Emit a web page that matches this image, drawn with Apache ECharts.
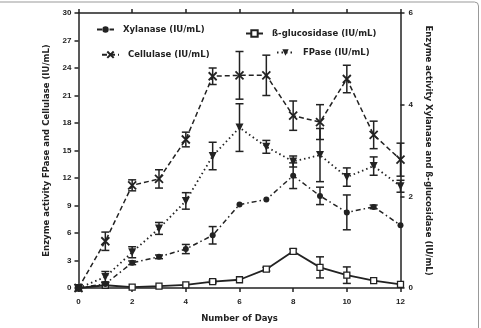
<!DOCTYPE html>
<html>
<head>
<meta charset="utf-8">
<script src="https://cdn.jsdelivr.net/npm/echarts@6/dist/echarts.min.js"></script>
<style>
  html, body { margin: 0; padding: 0; background: #fff; }
  #chart { width: 481px; height: 328px; }
</style>
</head>
<body>
<div id="chart"></div>
<script>
// days of culture
const days = [0, 1, 2, 3, 4, 5, 6, 7, 8, 9, 10, 11, 12];

// left axis (FPase and Cellulase, IU/mL)
const cellulase    = [0, 5.1, 11.2, 11.9, 16.2, 23.1, 23.2, 23.2, 18.8, 18.1, 22.8, 16.7, 14.0];
const cellulaseErr = [0, 1.0, 0.6, 1.0, 0.8, 0.9, 2.6, 2.2, 1.6, 1.9, 1.5, 1.5, 1.8];
const fpase        = [0, 1.2, 3.9, 6.5, 9.5, 14.4, 17.5, 15.4, 13.8, 14.5, 12.1, 13.3, 11.1];
const fpaseErr     = [0, 0.6, 0.6, 0.65, 0.9, 1.5, 2.6, 0.7, 0.6, 2.9, 1.0, 1.0, 0.65];

// right axis (Xylanase and ß-glucosidase, IU/mL)
const xylanase       = [0, 0.09, 0.55, 0.68, 0.85, 1.15, 1.82, 1.93, 2.45, 2.01, 1.65, 1.77, 1.37];
const xylanaseErr    = [0, 0.04, 0.04, 0.04, 0.1, 0.19, 0, 0, 0.28, 0.19, 0.38, 0.04, 0];
const glucosidase    = [0, 0.06, 0.02, 0.04, 0.07, 0.14, 0.18, 0.41, 0.80, 0.45, 0.28, 0.16, 0.08];
const glucosidaseErr = [0, 0, 0, 0, 0, 0.03, 0, 0.04, 0.05, 0.23, 0.18, 0, 0];

const leftTicks  = [0, 3, 6, 9, 12, 15, 18, 21, 24, 27, 30];
const rightTicks = [0, 2, 4, 6];
const dayTicks   = [0, 2, 4, 6, 8, 10, 12];

const INK = '#222';
const labelFont = () => ({ color: INK, fontSize: 8, fontWeight: 'bold', fontFamily: 'Liberation Sans' });
const titleFont = () => ({ color: INK, fontSize: 8.5, fontWeight: 'bold', fontFamily: 'DejaVu Sans' });

const pairs = (ys) => days.map((d, i) => [d, ys[i]]);
const triples = (ys, es) => days.map((d, i) => [d, ys[i], es[i]]);

// error bars with caps
const errRender = (params, api) => {
  const x = api.value(0), y = api.value(1), e = api.value(2);
  if (!e) return null;
  const top = api.coord([x, y + e]);
  const bot = api.coord([x, y - e]);
  const w = 4;
  const st = { stroke: INK, lineWidth: 1.5 };
  return {
    type: 'group',
    children: [
      { type: 'line', shape: { x1: top[0], y1: top[1], x2: bot[0], y2: bot[1] }, style: st },
      { type: 'line', shape: { x1: top[0] - w, y1: top[1], x2: top[0] + w, y2: top[1] }, style: st },
      { type: 'line', shape: { x1: bot[0] - w, y1: bot[1], x2: bot[0] + w, y2: bot[1] }, style: st }
    ]
  };
};

const errSeries = (name, ys, es, yAxisIndex) => ({
  name: name,
  type: 'custom',
  xAxisIndex: 0,
  yAxisIndex: yAxisIndex,
  renderItem: errRender,
  data: triples(ys, es),
  encode: { x: 0, y: 1 },
  z: 1,
  silent: true
});

const lineSeries = (extra) => Object.assign({
  type: 'line',
  xAxisIndex: 0,
  showSymbol: true,
  silent: true,
  z: 3,
  emphasis: { disabled: true }
}, extra);

const legendAt = (name, left, top) => ({
  data: [name],
  left: left,
  top: top,
  selectedMode: false,
  itemWidth: 17,
  itemHeight: 8,
  textStyle: Object.assign(titleFont(), { padding: [0, 0, 0, 4] })
});

// fresh objects per axis so nothing is shared between axes
const axisTick = () => ({ show: true, inside: false, length: 4, lineStyle: { color: INK, width: 1.5 } });
const axisLine = () => ({ show: true, onZero: false, lineStyle: { color: INK, width: 1.5 } });

const chart = echarts.init(document.getElementById('chart'));

chart.setOption({
  animation: false,
  backgroundColor: '#fff',
  graphic: [{
    type: 'rect',
    shape: { x: -6, y: 2, width: 484.5, height: 340, r: 4 },
    style: { fill: 'none', stroke: '#999', lineWidth: 1 },
    silent: true
  }],
  grid: { left: 78.5, right: 80.5, top: 13, bottom: 32 },
  legend: [
    legendAt('Xylanase (IU/mL)', 91, 20),
    legendAt('ß-glucosidase (IU/mL)', 240, 24),
    legendAt('Cellulase (IU/mL)', 96, 44),
    legendAt('FPase (IU/mL)', 271, 43)
  ],
  xAxis: [{
    type: 'value',
    min: 0,
    max: 12,
    interval: 2,
    name: 'Number of Days',
    nameLocation: 'middle',
    nameGap: 26,
    nameTextStyle: titleFont(),
    axisLine: axisLine(),
    axisTick: axisTick(),
    axisLabel: Object.assign({ margin: 10, formatter: v => dayTicks.includes(v) ? String(v) : '' }, labelFont()),
    splitLine: { show: false }
  }, {
    type: 'value',
    position: 'top',
    min: 0,
    max: 12,
    interval: 2,
    axisLine: axisLine(),
    axisTick: axisTick(),
    axisLabel: { show: false },
    splitLine: { show: false }
  }],
  yAxis: [{
    type: 'value',
    position: 'left',
    min: 0,
    max: 30,
    interval: 3,
    name: 'Enzyme activity FPase and Cellulase (IU/mL)',
    nameLocation: 'middle',
    nameGap: 25,
    nameTextStyle: titleFont(),
    axisLine: axisLine(),
    axisTick: axisTick(),
    axisLabel: Object.assign({ margin: 7, formatter: v => leftTicks.includes(v) ? String(v) : '' }, labelFont()),
    splitLine: { show: false }
  }, {
    type: 'value',
    position: 'right',
    min: 0,
    max: 6,
    interval: 2,
    name: 'Enzyme activity Xylanase and ß-glucosidase (IU/mL)',
    nameLocation: 'middle',
    nameGap: 20,
    nameRotate: -90,
    nameTextStyle: titleFont(),
    axisLine: axisLine(),
    axisTick: axisTick(),
    axisLabel: Object.assign({ margin: 8, formatter: v => rightTicks.includes(v) ? String(v) : '' }, labelFont()),
    splitLine: { show: false }
  }],
  series: [
    errSeries('err-cellulase', cellulase, cellulaseErr, 0),
    errSeries('err-fpase', fpase, fpaseErr, 0),
    errSeries('err-xylanase', xylanase, xylanaseErr, 1),
    errSeries('err-glucosidase', glucosidase, glucosidaseErr, 1),
    lineSeries({
      name: 'ß-glucosidase (IU/mL)',
      yAxisIndex: 1,
      data: pairs(glucosidase),
      symbol: 'rect',
      symbolSize: 6,
      itemStyle: { color: '#fff', borderColor: INK, borderWidth: 1.3 },
      lineStyle: { color: INK, width: 1.8, type: 'solid' }
    }),
    lineSeries({
      name: 'Xylanase (IU/mL)',
      yAxisIndex: 1,
      data: pairs(xylanase),
      symbol: 'circle',
      symbolSize: 6,
      itemStyle: { color: INK },
      lineStyle: { color: INK, width: 1.5, type: [5, 3, 1.5, 3] }
    }),
    lineSeries({
      name: 'FPase (IU/mL)',
      yAxisIndex: 0,
      data: pairs(fpase),
      symbol: 'triangle',
      symbolRotate: 180,
      symbolSize: 8,
      itemStyle: { color: INK },
      lineStyle: { color: INK, width: 1.8, type: [1.5, 3] }
    }),
    lineSeries({
      name: 'Cellulase (IU/mL)',
      yAxisIndex: 0,
      data: pairs(cellulase),
      symbol: 'path://M0,0L10,10M10,0L0,10',
      symbolSize: 8,
      itemStyle: { color: 'none', borderColor: INK, borderWidth: 1.8 },
      lineStyle: { color: INK, width: 1.5, type: [5, 3] }
    })
  ]
});
</script>
</body>
</html>
